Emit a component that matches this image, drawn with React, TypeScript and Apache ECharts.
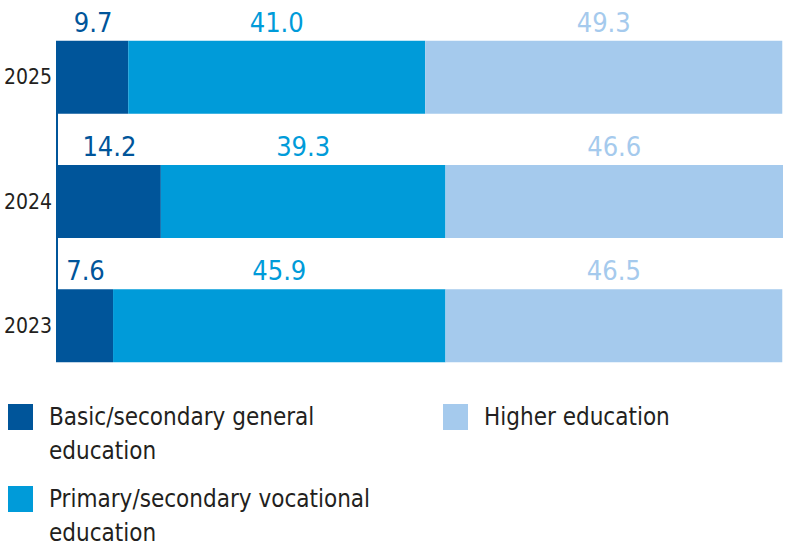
import { useEffect, useRef } from "react";
import * as echarts from "echarts";

const years = ["2023", "2024", "2025"];
const basicGeneral = [7.6, 14.2, 9.7];
const vocational = [45.9, 39.3, 41.0];
const higher = [46.5, 46.6, 49.3];

const seriesNames = [
  "Basic/secondary general\neducation",
  "Primary/secondary vocational\neducation",
  "Higher education",
];
const COLORS = ["#00559a", "#009bd9", "#a5caed"];
const FONT = "'DejaVu Sans Condensed', 'Liberation Sans', sans-serif";
const BAR_W = 73;

function legendFor(name: string, left: number, top: number, twoLines: boolean): echarts.LegendComponentOption {
  return {
    data: [name],
    left,
    top,
    padding: 0,
    orient: "vertical",
    selectedMode: false,
    icon: "rect",
    itemWidth: 25,
    itemHeight: 26,
    // a leading empty line keeps the first text line level with the swatch
    formatter: twoLines ? (n: string) => "\n" + n : "{name}",
    textStyle: {
      fontFamily: FONT,
      fontSize: 24,
      color: "#231f20",
      lineHeight: 34,
      padding: [0, 0, 0, 11],
    },
  };
}

function buildOption(): echarts.EChartsOption {
  const data = [basicGeneral, vocational, higher];
  return {
    animation: false,
    backgroundColor: "#ffffff",
    grid: { left: 58, right: 8, top: 15, bottom: 165, containLabel: false, outerBoundsMode: "none" } as any,
    legend: [
      legendFor(seriesNames[0], 8, 366, true),
      legendFor(seriesNames[1], 8, 448, true),
      legendFor(seriesNames[2], 443, 400, false),
    ],
    xAxis: {
      type: "value",
      min: 0,
      max: 100.1,
      show: false,
    },
    yAxis: {
      type: "category",
      data: years,
      axisLine: { show: false },
      axisTick: { show: false },
      axisLabel: { fontFamily: FONT, fontSize: 21, color: "#231f20", margin: 6 },
    },
    series: data.map((values, i) => ({
      name: seriesNames[i],
      type: "bar",
      stack: "total",
      barWidth: BAR_W,
      data: values,
      itemStyle: { color: COLORS[i] },
      label: {
        show: true,
        position: "top",
        distance: 5,
        fontFamily: FONT,
        fontSize: 27,
        color: COLORS[i],
        formatter: (p: any) => Number(p.value).toFixed(1),
      },
    })),
  };
}

export default function App() {
  const el = useRef<HTMLDivElement>(null);

  useEffect(() => {
    if (!el.current) return;
    const chart = echarts.init(el.current, undefined, { renderer: "svg" });
    chart.setOption(buildOption());
    // vertical axis line spanning only the bars
    const x0 = chart.convertToPixel({ xAxisIndex: 0 }, 0) as number;
    const yTop = (chart.convertToPixel({ yAxisIndex: 0 }, years[years.length - 1]) as number) - BAR_W / 2;
    const yBottom = (chart.convertToPixel({ yAxisIndex: 0 }, years[0]) as number) + BAR_W / 2;
    chart.setOption({
      graphic: [{
        type: "line",
        shape: { x1: x0 - 1, y1: yTop, x2: x0 - 1, y2: yBottom },
        style: { stroke: COLORS[0], lineWidth: 2 },
        z: 10,
      }],
    });
    return () => chart.dispose();
  }, []);

  return (
    <div
      ref={el}
      style={{ position: "fixed", left: 0, top: 0, width: 791, height: 553 }}
    />
  );
}
